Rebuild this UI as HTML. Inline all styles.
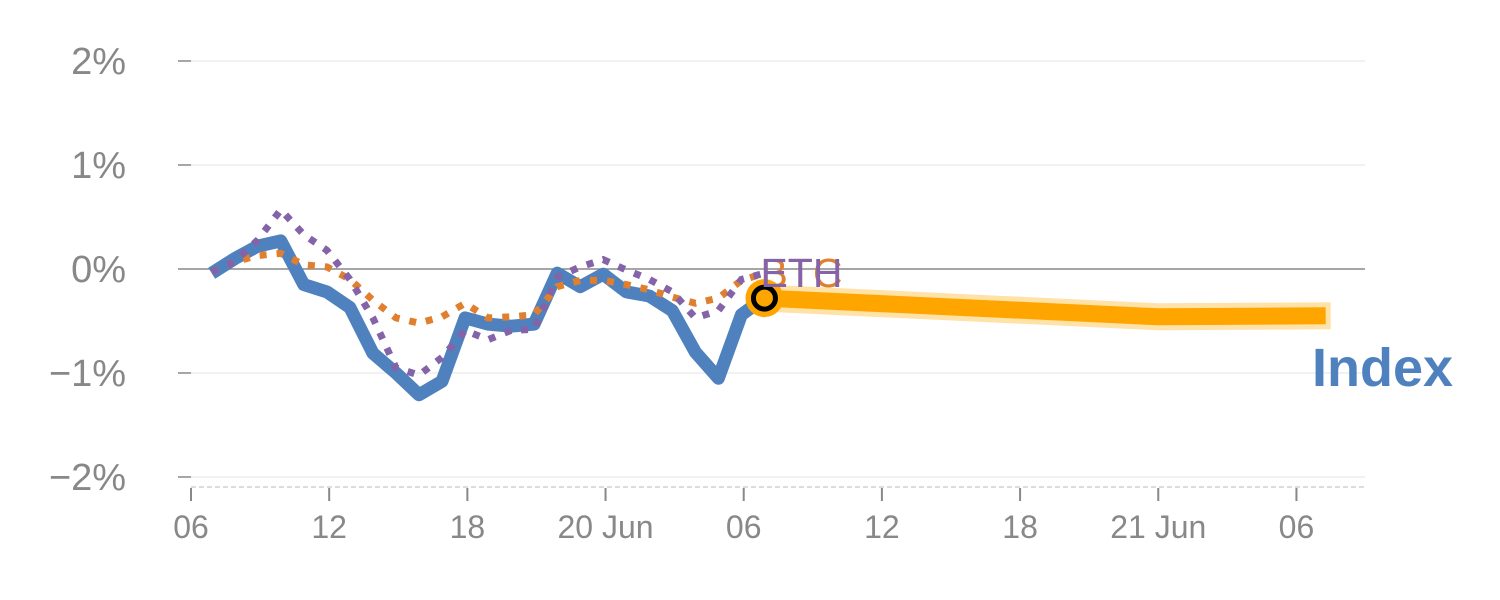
<!DOCTYPE html>
<html><head><meta charset="utf-8"><style>
html,body{margin:0;padding:0;background:#fff;}
svg{display:block;font-family:"Liberation Sans",sans-serif;}
</style></head><body>
<svg id="chart" width="1500" height="600" viewBox="0 0 1500 600" xmlns="http://www.w3.org/2000/svg">
<g id="grid"></g>
<g id="series"></g>
<text x="1312" y="386" font-size="54" font-weight="bold" fill="#4e81bd">Index</text>
</svg>
<script>
// hours since 06:00 on day 1
const histTimes = [0.9,1.9,2.9,3.9,4.9,5.9,6.9,7.9,8.9,9.9,10.9,11.9,12.9,13.9,14.9,15.9,16.9,17.9,18.9,19.9,20.9,21.9,22.9,23.9,24.9];
const indexValues = [-0.04,0.10,0.22,0.27,-0.15,-0.22,-0.37,-0.81,-1.0,-1.21,-1.08,-0.47,-0.53,-0.55,-0.53,-0.04,-0.17,-0.05,-0.22,-0.26,-0.40,-0.80,-1.05,-0.44,-0.28];
const btcValues = [-0.03,0.07,0.13,0.15,0.04,0.02,-0.10,-0.30,-0.47,-0.52,-0.46,-0.33,-0.47,-0.46,-0.44,-0.17,-0.11,-0.11,-0.15,-0.20,-0.27,-0.33,-0.28,-0.11,-0.04];
const ethValues = [-0.03,0.07,0.28,0.57,0.33,0.18,-0.10,-0.47,-0.95,-1.02,-0.85,-0.59,-0.68,-0.59,-0.58,-0.08,0.02,0.09,-0.01,-0.10,-0.22,-0.47,-0.40,-0.10,-0.04];
const forecastTimes = [24.9,42,48.9];
const forecastValues = [-0.28,-0.46,-0.45];
const yTicks = [2,1,0,-1,-2];
const yTickLabels = ["2%","1%","0%","\u22121%","\u22122%"];
const xTicks = [0,6,12,18,24,30,36,42,48];
const xTickLabels = ["06","12","18","20 Jun","06","12","18","21 Jun","06"];

const NS = "http://www.w3.org/2000/svg";
const X = h => 191 + h * 23.03;
const Y = v => 269 - v * 104;
function mk(tag, attrs, parent){const e=document.createElementNS(NS,tag);for(const k in attrs)e.setAttribute(k,attrs[k]);parent.appendChild(e);return e;}
const grid = document.getElementById('grid');
const series = document.getElementById('series');

yTicks.forEach((v,i)=>{
  const l = mk('line',{x1:191,x2:1365,y1:Y(v),y2:Y(v),stroke:v===0?'#888':'#e3e3e3','stroke-width':v===0?1.5:1},grid);
  
  
  const t = mk('line',{x1:178,x2:191,y1:Y(v),y2:Y(v),stroke:'#888','stroke-width':1.5},grid);
  
  
  const tx = mk('text',{x:126,y:Y(v)+13,'font-size':38,fill:'#888','text-anchor':'end'},grid);
  tx.textContent = yTickLabels[i];
  
  
});
const base = mk('line',{x1:191,x2:1365,y1:487,y2:487,stroke:'#ddd','stroke-width':2,'stroke-dasharray':'5,3'},grid);


xTicks.forEach((h,i)=>{
  const t = mk('line',{x1:X(h),x2:X(h),y1:488,y2:501,stroke:'#888','stroke-width':2},grid);
  
  
  const tx = mk('text',{x:X(h),y:538,'font-size':32,fill:'#888','text-anchor':'middle'},grid);
  tx.textContent = xTickLabels[i];
  
  
});

const pts = (ts,vs)=>ts.map((t,i)=>X(t).toFixed(1)+','+Y(vs[i]).toFixed(1)).join(' ');

const fo = mk('polyline',{points:pts(forecastTimes,forecastValues),fill:'none',stroke:'#ffe2a8','stroke-width':27,'stroke-linejoin':'round','stroke-linecap':'square'},series);


const fi = mk('polyline',{points:pts(forecastTimes,forecastValues),fill:'none',stroke:'#ffa500','stroke-width':17,'stroke-linejoin':'round','stroke-linecap':'square'},series);



const ib = mk('polyline',{points:pts(histTimes,indexValues),fill:'none',stroke:'#4e81bd','stroke-width':13,'stroke-linejoin':'round'},series);


const bt = mk('polyline',{points:pts(histTimes,btcValues),fill:'none',stroke:'#e07f2e','stroke-width':7,'stroke-dasharray':'7,10'},series);


const et = mk('polyline',{points:pts(histTimes,ethValues),fill:'none',stroke:'#8463a8','stroke-width':7,'stroke-dasharray':'7,10'},series);



const lx = X(histTimes[histTimes.length-1]);
const ly = Y(indexValues[indexValues.length-1]);
const c1 = mk('circle',{cx:lx,cy:ly,r:19,fill:'#ffa500'},series);


const c2 = mk('circle',{cx:lx,cy:ly,r:11,fill:'none',stroke:'#000','stroke-width':5},series);



const t1 = mk('text',{x:lx-4,y:287,'font-size':41,fill:'#e07f2e'},series);
t1.textContent = 'BTC';


const t2 = mk('text',{x:lx-4,y:287,'font-size':41,fill:'#8463a8'},series);
t2.textContent = 'ETH';


</script>
</body></html>
